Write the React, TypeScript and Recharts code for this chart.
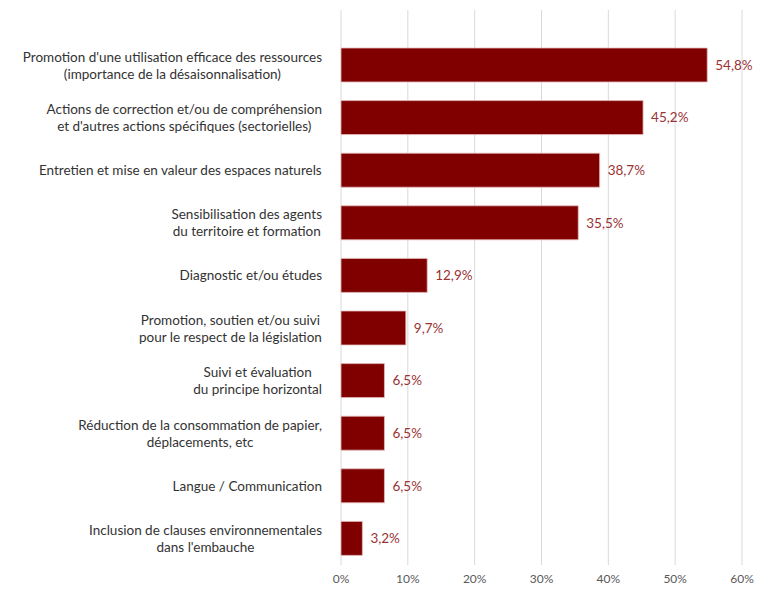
import { BarChart, Bar, XAxis, YAxis, CartesianGrid, LabelList } from "recharts";

const categories = [
  "Promotion d'une utilisation efficace des ressources\n(importance de la désaisonnalisation)",
  "Actions de correction et/ou de compréhension\net d'autres actions spécifiques (sectorielles)",
  "Entretien et mise en valeur des espaces naturels",
  "Sensibilisation des agents\ndu territoire et formation",
  "Diagnostic et/ou études",
  "Promotion, soutien et/ou suivi\npour le respect de la législation",
  "Suivi et évaluation\ndu principe horizontal",
  "Réduction de la consommation de papier,\ndéplacements, etc",
  "Langue / Communication",
  "Inclusion de clauses environnementales\ndans l'embauche",
];

const shares = [54.8, 45.2, 38.7, 35.5, 12.9, 9.7, 6.5, 6.5, 6.5, 3.2];

const xTicks = [0, 10, 20, 30, 40, 50, 60];

const data = categories.map((name, i) => ({ name, value: shares[i] }));

const FONT = "Lato, 'Open Sans', sans-serif";
const LABEL_SIZE = 13.5;

let ctx: CanvasRenderingContext2D | null = null;
function textWidth(s: string) {
  if (!ctx) ctx = document.createElement("canvas").getContext("2d");
  if (!ctx) return s.length * 6;
  ctx.font = `${LABEL_SIZE}px Lato`;
  return ctx.measureText(s).width;
}

// two-line labels are centred on each other, block is right aligned
function CategoryTick(props: any) {
  const { x, y, payload } = props;
  const lines: string[] = String(payload.value).split("\n");
  const w = Math.max(...lines.map(textWidth));
  const cx = x - w / 2;
  const lh = 17;
  const start = y - ((lines.length - 1) * lh) / 2;
  return (
    <g>
      {lines.map((l, i) => (
        <text
          key={i}
          x={cx}
          y={start + i * lh}
          dy="0.35em"
          textAnchor="middle"
          fontSize={LABEL_SIZE}
          fontFamily={FONT}
          fill="#333333"
        >
          {l}
        </text>
      ))}
    </g>
  );
}

export default function App() {
  return (
    <div style={{ position: "absolute", left: 0, top: 0, width: 762, height: 591, background: "#fff" }}>
      <BarChart
        width={762}
        height={591}
        data={data}
        layout="vertical"
        margin={{ top: 10, right: 20, left: 0, bottom: 6 }}
      >
        <CartesianGrid horizontal={false} stroke="#d9d9d9" />
        <XAxis
          type="number"
          domain={[0, 60]}
          ticks={xTicks}
          axisLine={false}
          tickLine={false}
          tickMargin={3}
          height={20}
          tickFormatter={(v) => `${v}%`}
          tick={{ fontSize: 12, fill: "#595959", fontFamily: FONT }}
        />
        <YAxis
          type="category"
          dataKey="name"
          width={341}
          axisLine={false}
          tickLine={false}
          tickMargin={13}
          interval={0}
          padding={{ top: 29, bottom: 0 }}
          tick={<CategoryTick />}
        />
        <Bar
          dataKey="value"
          fill="#800000"
          stroke="#e6bcbc"
          strokeWidth={0.8}
          barSize={34}
          isAnimationActive={false}
        >
          <LabelList
            dataKey="value"
            position="right"
            offset={8}
            formatter={(v: any) => `${String(v).replace(".", ",")}%`}
            style={{ fontSize: 13.5, fill: "#993333", fontFamily: FONT }}
          />
        </Bar>
      </BarChart>
    </div>
  );
}
